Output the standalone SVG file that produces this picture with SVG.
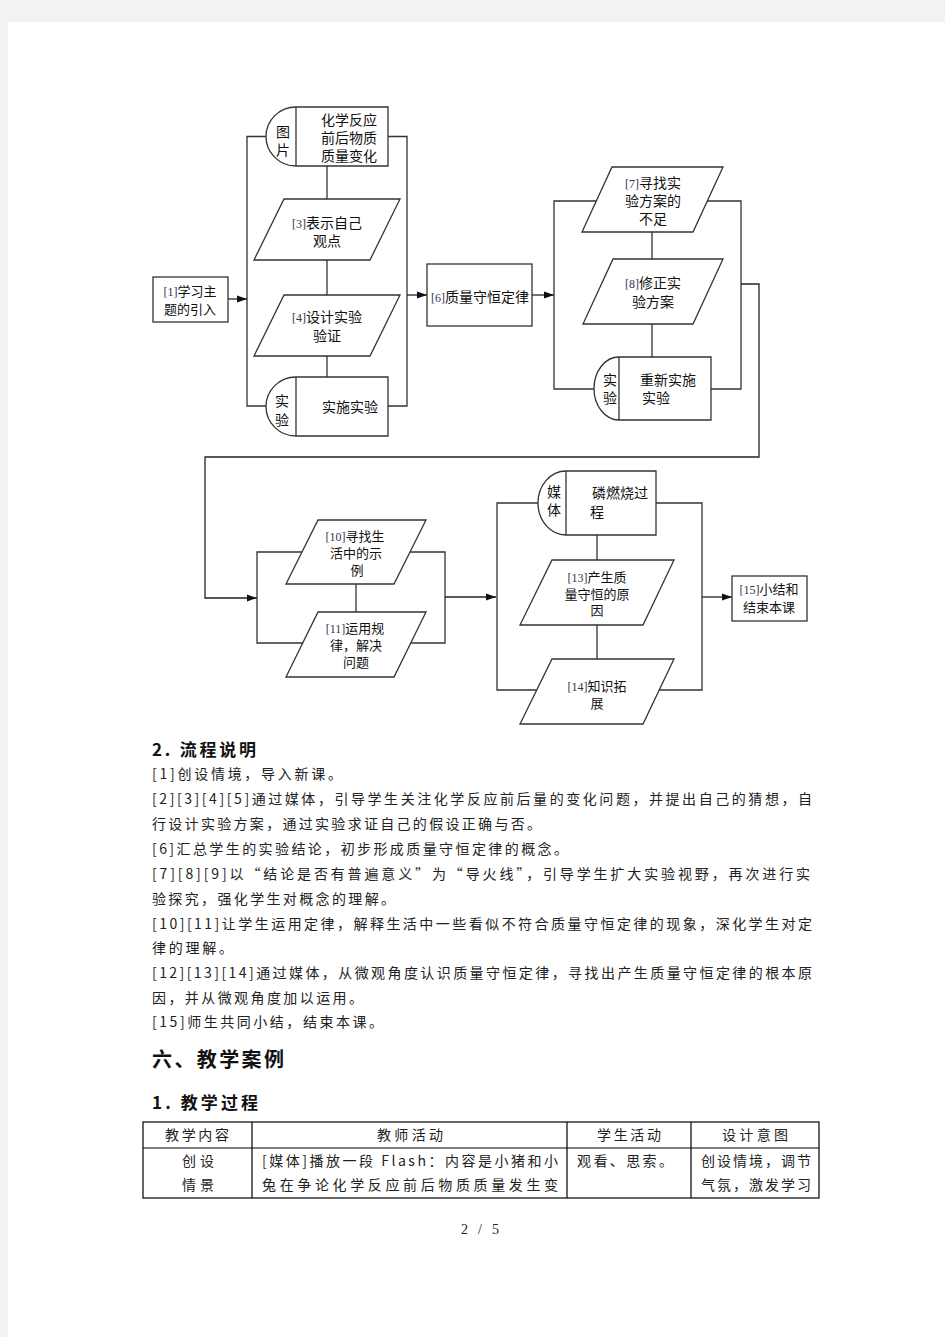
<svg xmlns="http://www.w3.org/2000/svg" width="945" height="1337" viewBox="0 0 945 1337">
<defs>
<marker id="arr" markerUnits="userSpaceOnUse" markerWidth="10" markerHeight="8" refX="10" refY="4" orient="auto">
<path d="M0,0.5 L10,4 L0,7.5 z" fill="#111"/>
</marker>
<style>
.sh{fill:#fff;stroke:#333;stroke-width:1.3}
.ln{fill:none;stroke:#333;stroke-width:1.3}
.ar{fill:none;stroke:#222;stroke-width:1.3;marker-end:url(#arr)}
.t{font-family:"Noto Sans CJK SC","Noto Sans",sans-serif;font-size:14px;fill:#111}
.s{font-size:13px}
.c{text-anchor:middle}
.num{font-family:"Liberation Serif",serif;font-size:12px;fill:#335}
.p{font-family:"Noto Sans CJK SC","Noto Sans",sans-serif;font-size:14px;fill:#222}
.h{font-family:"Noto Sans CJK SC","Noto Sans",sans-serif;font-weight:bold;fill:#111}
.tb{fill:none;stroke:#000;stroke-width:1.2}
</style>
</defs>
<rect x="0" y="0" width="945" height="1337" fill="#f2f2f2"/>
<rect x="8" y="22" width="937" height="1315" fill="#fff"/>

<g id="connectors">
<path class="ln" d="M327,166 V199 M327,260 V295 M327,356 V377"/>
<path class="ln" d="M266,136.5 H247 V406 H266 M388,136.5 H407 V406 H388"/>
<path class="ar" d="M228,299 H247"/>
<path class="ar" d="M407,295 H427"/>
<path class="ar" d="M532,295 H554"/>
<path class="ln" d="M596,201 H554 V389 H594 M707,201 H741 V389 H711"/>
<path class="ln" d="M652,232 V259 M652,324 V357"/>
<path class="ar" d="M741,284 H759 V457 H205 V598 H257"/>
<path class="ln" d="M302,552 H257 V643 H303 M410,552 H445 V643 H411"/>
<path class="ln" d="M356,584 V612"/>
<path class="ar" d="M445,597 H496"/>
<path class="ln" d="M538,503 H497 V690 H537 M656,503 H702 V690 H659"/>
<path class="ln" d="M597,535 V560 M597,625 V659"/>
<path class="ar" d="M702,597 H732"/>
</g>

<g id="n1">
<rect class="sh" x="153" y="277" width="75" height="45"/>
<text class="t s c" x="190" y="296"><tspan class="num">[1]</tspan>学习主</text>
<text class="t s c" x="190" y="314">题的引入</text>
</g>

<g id="n2">
<path class="sh" d="M296,107 H388 V166 H296 A30,29.5 0 0 1 296,107 Z"/>
<path class="ln" d="M296,107 V166"/>
<text class="t c" x="283" y="136.5">图</text>
<text class="t c" x="283" y="155">片</text>
<text class="t c" x="349" y="125">化学反应</text>
<text class="t c" x="349" y="143">前后物质</text>
<text class="t c" x="349" y="161">质量变化</text>
</g>

<g id="n3">
<polygon class="sh" points="284,199 400,199 370,260 254,260"/>
<text class="t c" x="327" y="228"><tspan class="num">[3]</tspan>表示自己</text>
<text class="t c" x="327" y="246">观点</text>
</g>

<g id="n4">
<polygon class="sh" points="284,295 400,295 370,356 254,356"/>
<text class="t c" x="327" y="322"><tspan class="num">[4]</tspan>设计实验</text>
<text class="t c" x="327" y="341">验证</text>
</g>

<g id="n5">
<path class="sh" d="M296,377 H388 V436 H296 A30,29.5 0 0 1 296,377 Z"/>
<path class="ln" d="M296,377 V436"/>
<text class="t c" x="282" y="406">实</text>
<text class="t c" x="282" y="425">验</text>
<text class="t c" x="350" y="412">实施实验</text>
</g>

<g id="n6">
<rect class="sh" x="427" y="264" width="105" height="62"/>
<text class="t c" x="480" y="302"><tspan class="num">[6]</tspan>质量守恒定律</text>
</g>

<g id="n7">
<polygon class="sh" points="612,167 723,167 693,232 582,232"/>
<text class="t c" x="653" y="188"><tspan class="num">[7]</tspan>寻找实</text>
<text class="t c" x="653" y="206">验方案的</text>
<text class="t c" x="653" y="224">不足</text>
</g>

<g id="n8">
<polygon class="sh" points="613,259 723,259 693,324 583,324"/>
<text class="t c" x="653" y="288"><tspan class="num">[8]</tspan>修正实</text>
<text class="t c" x="653" y="307">验方案</text>
</g>

<g id="n9">
<path class="sh" d="M619,357 H711 V420 H619 A25,31.5 0 0 1 619,357 Z"/>
<path class="ln" d="M619,357 V420"/>
<text class="t c" x="610" y="385">实</text>
<text class="t c" x="610" y="403">验</text>
<text class="t" x="640" y="385">重新实施</text>
<text class="t" x="642" y="403">实验</text>
</g>

<g id="n10">
<polygon class="sh" points="318,520 426,520 394,584 286,584"/>
<text class="t s c" x="355" y="541"><tspan class="num">[10]</tspan>寻找生</text>
<text class="t s c" x="356" y="558">活中的示</text>
<text class="t s c" x="357" y="575">例</text>
</g>

<g id="n11">
<polygon class="sh" points="318,612 426,612 394,677 286,677"/>
<text class="t s c" x="355" y="633"><tspan class="num">[11]</tspan>运用规</text>
<text class="t s c" x="356" y="650">律，解决</text>
<text class="t s c" x="356" y="667">问题</text>
</g>

<g id="n12">
<path class="sh" d="M566,471 H656 V535 H566 A28,32 0 0 1 566,471 Z"/>
<path class="ln" d="M566,471 V535"/>
<text class="t c" x="554" y="497">媒</text>
<text class="t c" x="554" y="515">体</text>
<text class="t" x="592" y="498">磷燃烧过</text>
<text class="t" x="590" y="517">程</text>
</g>

<g id="n13">
<polygon class="sh" points="552,560 674,560 643,625 520,625"/>
<text class="t s c" x="597" y="582"><tspan class="num">[13]</tspan>产生质</text>
<text class="t s c" x="597" y="598.5">量守恒的原</text>
<text class="t s c" x="597" y="615">因</text>
</g>

<g id="n14">
<polygon class="sh" points="552,659 674,659 643,724 520,724"/>
<text class="t s c" x="597" y="691"><tspan class="num">[14]</tspan>知识拓</text>
<text class="t s c" x="597" y="708">展</text>
</g>

<g id="n15">
<rect class="sh" x="732" y="576" width="75" height="45"/>
<text class="t s c" x="769" y="594"><tspan class="num">[15]</tspan>小结和</text>
<text class="t s c" x="769" y="612">结束本课</text>
</g>

<g id="notes">
<text class="h" x="152" y="756" font-size="17" textLength="104" lengthAdjust="spacing">2. 流程说明</text>
<text class="p" x="152" y="779" textLength="190" lengthAdjust="spacing">[1]创设情境，导入新课。</text>
<text class="p" x="152" y="804" textLength="660" lengthAdjust="spacing">[2][3][4][5]通过媒体，引导学生关注化学反应前后量的变化问题，并提出自己的猜想，自</text>
<text class="p" x="152" y="829" textLength="389" lengthAdjust="spacing">行设计实验方案，通过实验求证自己的假设正确与否。</text>
<text class="p" x="152" y="854" textLength="416" lengthAdjust="spacing">[6]汇总学生的实验结论，初步形成质量守恒定律的概念。</text>
<text class="p" x="152" y="879" textLength="658" lengthAdjust="spacing">[7][8][9]以“结论是否有普遍意义”为“导火线”，引导学生扩大实验视野，再次进行实</text>
<text class="p" x="152" y="904" textLength="243" lengthAdjust="spacing">验探究，强化学生对概念的理解。</text>
<text class="p" x="152" y="929" textLength="660" lengthAdjust="spacing">[10][11]让学生运用定律，解释生活中一些看似不符合质量守恒定律的现象，深化学生对定</text>
<text class="p" x="152" y="953" textLength="81" lengthAdjust="spacing">律的理解。</text>
<text class="p" x="152" y="978" textLength="660" lengthAdjust="spacing">[12][13][14]通过媒体，从微观角度认识质量守恒定律，寻找出产生质量守恒定律的根本原</text>
<text class="p" x="152" y="1003" textLength="211" lengthAdjust="spacing">因，并从微观角度加以运用。</text>
<text class="p" x="152" y="1027" textLength="231" lengthAdjust="spacing">[15]师生共同小结，结束本课。</text>
<text class="h" x="152" y="1067" font-size="20" textLength="132" lengthAdjust="spacing">六、教学案例</text>
<text class="h" x="152" y="1109" font-size="17" textLength="106" lengthAdjust="spacing">1.  教学过程</text>
</g>

<g id="table">
<rect class="tb" x="143" y="1122" width="676" height="76"/>
<path class="tb" d="M143,1148 H819 M252,1122 V1198 M567,1122 V1198 M691,1122 V1198"/>
<text class="p" x="165" y="1140" textLength="64" lengthAdjust="spacing">教学内容</text>
<text class="p" x="377" y="1140" textLength="66" lengthAdjust="spacing">教师活动</text>
<text class="p" x="597" y="1140" textLength="64" lengthAdjust="spacing">学生活动</text>
<text class="p" x="722" y="1140" textLength="66" lengthAdjust="spacing">设计意图</text>
<text class="p" x="182" y="1166" textLength="32" lengthAdjust="spacing">创设</text>
<text class="p" x="182" y="1190" textLength="32" lengthAdjust="spacing">情景</text>
<text class="p" x="262" y="1166" textLength="296" lengthAdjust="spacing">[媒体]播放一段 Flash：内容是小猪和小</text>
<text class="p" x="262" y="1190" textLength="296" lengthAdjust="spacing">兔在争论化学反应前后物质质量发生变</text>
<text class="p" x="577" y="1166" textLength="96" lengthAdjust="spacing">观看、思索。</text>
<text class="p" x="701" y="1166" textLength="110" lengthAdjust="spacing">创设情境，调节</text>
<text class="p" x="701" y="1190" textLength="110" lengthAdjust="spacing">气氛，激发学习</text>
</g>

<text x="461" y="1234" font-family="Liberation Serif, serif" font-size="14" fill="#222" textLength="38" lengthAdjust="spacing">2 / 5</text>
</svg>
